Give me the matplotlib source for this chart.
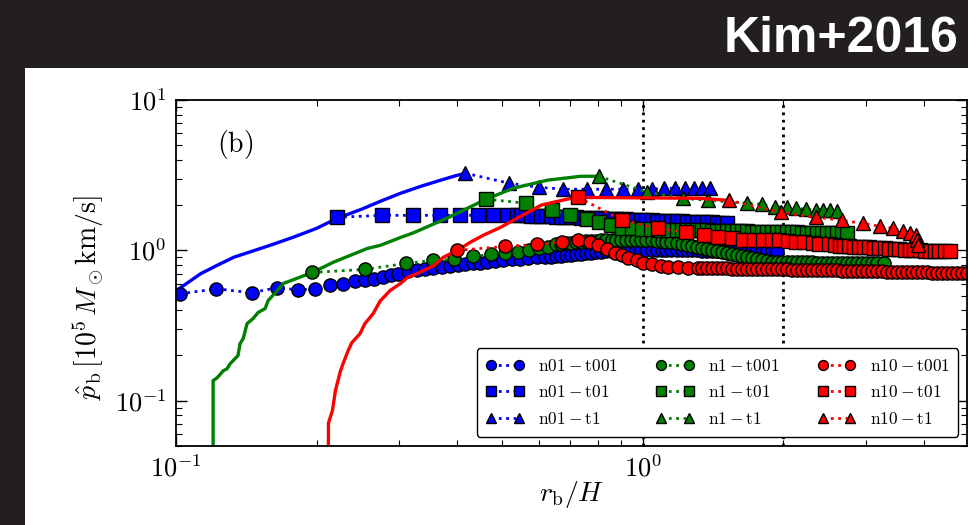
import matplotlib
matplotlib.use("Agg")
import numpy as np
import matplotlib.pyplot as plt
from matplotlib.patches import Rectangle
from matplotlib.ticker import FuncFormatter

plt.rcParams['mathtext.fontset'] = 'cm'

# ---- momentum of the shell vs radius, three densities x three cooling cases ----

# solid parts (before the shell forms)
n01_line_x = [0.099, 0.101, 0.106, 0.113, 0.122, 0.133, 0.146, 0.159, 0.178, 0.200, 0.221, 0.250,
              0.275, 0.303, 0.335, 0.369, 0.395, 0.417]
n01_line_y = [0.52, 0.55, 0.61, 0.70, 0.79, 0.90, 0.99, 1.08, 1.22, 1.40, 1.63, 1.88,
              2.13, 2.40, 2.67, 2.93, 3.12, 3.26]

n1_line_x = [0.1201, 0.1201, 0.1225, 0.1262, 0.1286, 0.1306, 0.1339, 0.1358, 0.1372, 0.1393, 0.1420,
             0.1463, 0.1499, 0.1552, 0.1576, 0.170, 0.196, 0.217, 0.257, 0.274, 0.303, 0.323, 0.381,
             0.462, 0.528, 0.625, 0.736, 0.804]
n1_line_y = [0.04, 0.136, 0.142, 0.158, 0.163, 0.176, 0.191, 0.200, 0.240, 0.259, 0.326,
             0.352, 0.386, 0.410, 0.464, 0.603, 0.713, 0.832, 1.03, 1.08, 1.22, 1.31, 1.64,
             2.19, 2.59, 2.93, 3.11, 3.11]

n10_line_x = [0.2121, 0.2121, 0.2163, 0.2196, 0.2251, 0.2284, 0.2337, 0.238, 0.2478, 0.254, 0.2645,
              0.2737, 0.2876, 0.3026, 0.3133, 0.329, 0.3574, 0.3734, 0.4008, 0.4269, 0.4552, 0.4951,
              0.528, 0.606, 0.688, 0.728, 1.32, 1.53]
n10_line_y = [0.04, 0.071, 0.0858, 0.117, 0.158, 0.179, 0.215, 0.243, 0.279, 0.326, 0.38,
              0.46, 0.541, 0.602, 0.661, 0.703, 0.794, 0.898, 1.0, 1.131, 1.26, 1.42,
              1.585, 2.0, 2.19, 2.25, 2.22, 2.15]

# n01
n01_t001_x = [0.102, 0.122, 0.1453, 0.1644, 0.1824, 0.1987, 0.2139, 0.2284, 0.2422, 0.2542, 0.2655,
              0.2776, 0.2887, 0.2996,
              0.3146, 0.3286, 0.3420, 0.3556, 0.3718, 0.3868, 0.4024, 0.4165, 0.4334, 0.4486, 0.4643,
              0.4830, 0.5025, 0.5256, 0.5463, 0.5684, 0.5939, 0.618,
              0.637, 0.653, 0.669, 0.686, 0.703, 0.720, 0.738, 0.757, 0.776, 0.795, 0.815, 0.836,
              0.857, 0.878, 0.900, 0.922, 0.945, 0.969, 0.993, 1.018, 1.044, 1.070, 1.097, 1.124,
              1.152, 1.181, 1.211, 1.241, 1.272, 1.304, 1.337, 1.370, 1.404, 1.439, 1.475, 1.512,
              1.550, 1.589, 1.629, 1.669, 1.711, 1.754, 1.798, 1.843, 1.889, 1.936]
n01_t001_y = [0.514, 0.555, 0.523, 0.564, 0.547, 0.555, 0.584, 0.600, 0.624, 0.631, 0.647,
              0.664, 0.681, 0.692,
              0.724, 0.736, 0.747, 0.759, 0.771, 0.782, 0.794, 0.806, 0.819, 0.819, 0.832,
              0.845, 0.858, 0.871, 0.871, 0.884, 0.898, 0.898,
              0.905, 0.912, 0.919, 0.926, 0.933, 0.940, 0.948, 0.955, 0.962, 0.970, 0.977, 0.985,
              0.985, 0.992, 0.992, 1.0, 1.0, 1.0, 1.0, 1.0, 1.0, 1.0, 1.0, 1.0,
              1.0, 1.0, 1.0, 1.0, 1.0, 1.0, 0.992, 0.992, 0.992, 0.992, 0.992, 0.985,
              0.985, 0.985, 0.985, 0.985, 0.985, 0.985, 0.985, 0.985, 0.985, 0.985]

n01_t01_x = [0.221, 0.2765, 0.3222, 0.3682, 0.4064, 0.4442, 0.4783, 0.5126, 0.5387,
             0.549, 0.563, 0.577, 0.591, 0.606, 0.621, 0.637, 0.653, 0.669, 0.686, 0.703, 0.720,
             0.738, 0.757, 0.776, 0.795, 0.815, 0.836, 0.857, 0.878, 0.900, 0.922, 0.945, 0.969,
             0.993, 1.018, 1.044, 1.070, 1.097, 1.124, 1.152, 1.181, 1.211, 1.241, 1.272, 1.304,
             1.337, 1.370, 1.404, 1.439, 1.475, 1.512]
n01_t01_y = [1.66, 1.71, 1.71, 1.71, 1.71, 1.71, 1.71, 1.71, 1.71,
             1.71, 1.71, 1.70, 1.70, 1.70, 1.685, 1.685, 1.67, 1.67, 1.66, 1.66, 1.66,
             1.645, 1.645, 1.635, 1.635, 1.635, 1.62, 1.62, 1.61, 1.61, 1.61, 1.60, 1.60,
             1.585, 1.585, 1.585, 1.575, 1.575, 1.56, 1.56, 1.56, 1.56, 1.55, 1.55, 1.55,
             1.535, 1.535, 1.535, 1.525, 1.52, 1.52]

n01_t1_x = [0.4165, 0.516, 0.598, 0.676, 0.759, 0.832, 0.907, 0.976, 1.044, 1.108, 1.173, 1.23,
            1.29, 1.34, 1.39]
n01_t1_y = [3.26, 2.80, 2.63, 2.55, 2.55, 2.55, 2.55, 2.55, 2.55, 2.59, 2.59, 2.59,
            2.59, 2.59, 2.59]

# n1
n1_t001_x = [0.196, 0.2542, 0.311, 0.356, 0.394, 0.433, 0.474, 0.508, 0.541, 0.571, 0.600, 0.625,
             0.653, 0.669, 0.686, 0.703, 0.720, 0.738, 0.757, 0.776, 0.795, 0.815, 0.836, 0.857,
             0.878, 0.900, 0.922, 0.945, 0.969, 0.993, 1.018, 1.044, 1.070, 1.097, 1.124, 1.152,
             1.181, 1.211, 1.241, 1.272, 1.304, 1.337, 1.370, 1.404, 1.439, 1.475, 1.512, 1.550,
             1.589, 1.629, 1.669, 1.711, 1.754, 1.798, 1.843, 1.889, 1.936, 1.985, 2.034, 2.085,
             2.137, 2.191, 2.245, 2.301, 2.359, 2.418, 2.478, 2.540, 2.604, 2.669, 2.736, 2.804,
             2.874, 2.946, 3.020, 3.095, 3.173, 3.29]
n1_t001_y = [0.713, 0.747, 0.819, 0.858, 0.871, 0.912, 0.940, 0.955, 0.970, 1.0, 1.03, 1.05,
             1.096, 1.105, 1.113, 1.122, 1.131, 1.139, 1.148, 1.148, 1.157, 1.166, 1.166, 1.166,
             1.175, 1.175, 1.175, 1.175, 1.175, 1.175, 1.175, 1.166, 1.157, 1.148, 1.139, 1.131,
             1.113, 1.096, 1.08, 1.063, 1.047, 1.031, 1.015, 1.0, 0.985, 0.970, 0.955, 0.940,
             0.926, 0.912, 0.898, 0.884, 0.871, 0.858, 0.845, 0.838, 0.832, 0.832, 0.832, 0.832,
             0.832, 0.832, 0.832, 0.832, 0.825, 0.825, 0.825, 0.825, 0.825, 0.825, 0.825, 0.825,
             0.825, 0.819, 0.819, 0.819, 0.819, 0.819]

n1_t01_x = [0.462, 0.561, 0.640, 0.697, 0.761, 0.807, 0.853, 0.904, 0.950, 0.998, 1.039, 1.092, 1.135,
            1.181, 1.211, 1.241, 1.272, 1.304, 1.337, 1.370, 1.404, 1.439, 1.475, 1.512, 1.550,
            1.589, 1.629, 1.669, 1.711, 1.754, 1.798, 1.843, 1.889, 1.936, 1.985, 2.034, 2.085,
            2.137, 2.191, 2.245, 2.301, 2.359, 2.418, 2.478, 2.540, 2.604, 2.669, 2.736]
n1_t01_y = [2.19, 2.06, 1.85, 1.71, 1.62, 1.535, 1.47, 1.40, 1.40, 1.38, 1.38, 1.37, 1.37,
            1.37, 1.37, 1.365, 1.365, 1.36, 1.36, 1.36, 1.355, 1.355, 1.35, 1.35, 1.345,
            1.345, 1.34, 1.34, 1.335, 1.335, 1.33, 1.33, 1.325, 1.325, 1.32, 1.32, 1.315,
            1.315, 1.31, 1.31, 1.31, 1.305, 1.305, 1.30, 1.30, 1.30, 1.30, 1.30]

n1_t1_x = [0.804, 1.023, 1.22, 1.377, 1.669, 1.798, 1.917, 2.034, 2.127, 2.234, 2.347, 2.43, 2.515, 2.604]
n1_t1_y = [3.11, 2.44, 2.22, 2.15, 2.06, 2.03, 1.94, 1.94, 1.91, 1.88, 1.85, 1.85, 1.85, 1.82]

# n10
n10_t001_x = [0.4008, 0.5075, 0.5944, 0.6725, 0.7277, 0.7705, 0.8035, 0.840, 0.874, 0.9045, 0.931,
              0.974, 1.003, 1.049, 1.092, 1.135, 1.187, 1.247, 1.310,
              1.337, 1.370, 1.404, 1.439, 1.475, 1.512, 1.550, 1.589, 1.629, 1.669, 1.711, 1.754,
              1.798, 1.843, 1.889, 1.936, 1.985, 2.034, 2.085, 2.137, 2.191, 2.245, 2.301, 2.359,
              2.418, 2.478, 2.540, 2.604, 2.669, 2.736, 2.804, 2.874, 2.946, 3.020, 3.095, 3.173,
              3.252, 3.333, 3.417, 3.502, 3.590, 3.679, 3.771, 3.866, 3.962, 4.061, 4.163, 4.267,
              4.374, 4.483, 4.595, 4.710, 4.828, 4.949]
n10_t001_y = [1.0, 1.063, 1.096, 1.131, 1.166, 1.131, 1.08, 1.015, 0.955, 0.926, 0.884,
              0.858, 0.819, 0.806, 0.782, 0.771, 0.771, 0.759, 0.759,
              0.759, 0.759, 0.759, 0.759, 0.759, 0.759, 0.753, 0.753, 0.753, 0.753, 0.753, 0.753,
              0.747, 0.747, 0.747, 0.747, 0.747, 0.747, 0.742, 0.742, 0.742, 0.742, 0.736, 0.736,
              0.736, 0.736, 0.736, 0.736, 0.730, 0.730, 0.730, 0.730, 0.724, 0.724, 0.724, 0.724,
              0.724, 0.718, 0.718, 0.718, 0.718, 0.713, 0.713, 0.713, 0.713, 0.713, 0.708, 0.708,
              0.708, 0.708, 0.703, 0.703, 0.703, 0.703]

n10_t01_x = [0.728, 0.9045, 1.076, 1.235, 1.35, 1.45, 1.55, 1.64, 1.73, 1.81,
             1.89, 1.955, 2.05, 2.13, 2.21, 2.32, 2.39, 2.50, 2.58, 2.64,
             2.70, 2.76, 2.83, 2.90, 2.98, 3.05, 3.13, 3.21, 3.30, 3.37,
             3.47, 3.54, 3.64, 3.73, 3.82, 3.92, 4.02, 4.12, 4.22, 4.32, 4.43, 4.54]
n10_t01_y = [2.25, 1.585, 1.40, 1.32, 1.26, 1.22, 1.20, 1.18, 1.166, 1.166,
             1.166, 1.166, 1.148, 1.131, 1.131, 1.113, 1.096, 1.096, 1.08, 1.075,
             1.07, 1.065, 1.06, 1.055, 1.05, 1.045, 1.04, 1.035, 1.03, 1.025,
             1.02, 1.015, 1.01, 1.005, 1.0, 1.0, 0.995, 0.99, 0.99, 0.985, 0.985, 0.985]

n10_t1_x = [1.53, 1.98, 2.345, 2.67, 2.96, 3.23, 3.44, 3.61, 3.74, 3.84, 3.87, 3.89]
n10_t1_y = [2.15, 1.79, 1.66, 1.585, 1.51, 1.445, 1.40, 1.34, 1.30, 1.26, 1.166, 1.08]

densities = ['n01', 'n1', 'n10']
cases = ['t001', 't01', 't1']
colors = {'n01': 'b', 'n1': 'g', 'n10': 'r'}
markers = {'t001': 'o', 't01': 's', 't1': '^'}
lines = {'n01': (n01_line_x, n01_line_y), 'n1': (n1_line_x, n1_line_y), 'n10': (n10_line_x, n10_line_y)}
shells = {
    ('n01', 't001'): (n01_t001_x, n01_t001_y), ('n01', 't01'): (n01_t01_x, n01_t01_y),
    ('n01', 't1'): (n01_t1_x, n01_t1_y),
    ('n1', 't001'): (n1_t001_x, n1_t001_y), ('n1', 't01'): (n1_t01_x, n1_t01_y),
    ('n1', 't1'): (n1_t1_x, n1_t1_y),
    ('n10', 't001'): (n10_t001_x, n10_t001_y), ('n10', 't01'): (n10_t01_x, n10_t01_y),
    ('n10', 't1'): (n10_t1_x, n10_t1_y),
}

fig = plt.figure(figsize=(9.68, 5.25), dpi=100, facecolor='#231f20')
# white panel behind the plot
fig.add_artist(Rectangle((25 / 968, 0), 1, 457 / 525, transform=fig.transFigure,
                         facecolor='white', edgecolor='none', zorder=-5))
fig.text(0.99, 0.90, 'Kim+2016', ha='right', va='baseline', color='white',
         fontsize=36, fontweight='bold', family='Liberation Sans')

ax = fig.add_axes([0.1818, 0.1505, 0.8172, 0.659])
ax.set_xscale('log')
ax.set_yscale('log')

ax.axvline(1.0, color='k', ls=':', lw=2, zorder=1)
ax.axvline(2.0, color='k', ls=':', lw=2, zorder=1)

for n in densities:
    c = colors[n]
    lx, ly = lines[n]
    ax.plot(lx, ly, '-', color=c, lw=2.4)
    for t in cases:
        sx, sy = shells[(n, t)]
        ms = 10.5 if t == 't1' else 9.5
        ax.plot(sx, sy, ls=':', lw=2, color=c, marker=markers[t], ms=ms,
                mfc=c, mec='k', mew=1.0, label=r'$\mathrm{%s-%s}$' % (n, t))

ax.set_xlim(0.1, 4.95)
ax.set_ylim(0.05, 10)

fmt = FuncFormatter(lambda v, p: r'$10^{%d}$' % int(round(np.log10(v))))
ax.xaxis.set_major_formatter(fmt)
ax.yaxis.set_major_formatter(fmt)
ax.tick_params(which='both', direction='in', top=True, right=True, labelsize=19)
ax.tick_params(which='major', length=8, width=1, pad=7)
ax.tick_params(which='minor', length=4, width=0.8)
for s in ax.spines.values():
    s.set_linewidth(1.3)

ax.set_xlabel(r'$r_{\rm b}/H$', fontsize=20)
ax.set_ylabel(r'$\hat{p}_{\rm b}\,[10^5\,M_\odot{\rm km/s}]$', fontsize=20)
ax.xaxis.set_label_coords(0.5, -0.095)
ax.yaxis.set_label_coords(-0.088, 0.43)

ax.text(0.052, 0.87, r'$\mathrm{(b)}$', transform=ax.transAxes, fontsize=20,
        ha='left', va='center')

leg = ax.legend(loc='upper left', bbox_to_anchor=(0.3805, 0.283), borderaxespad=0,
                ncol=3, fontsize=12.5, numpoints=2, markerscale=0.75, handlelength=2.2,
                handletextpad=0.8, columnspacing=2.2, labelspacing=0.5, borderpad=0.5,
                fancybox=True, framealpha=1, edgecolor='k')
leg.get_frame().set_linewidth(1.0)

fig.savefig('out.png', dpi=100, facecolor=fig.get_facecolor())
